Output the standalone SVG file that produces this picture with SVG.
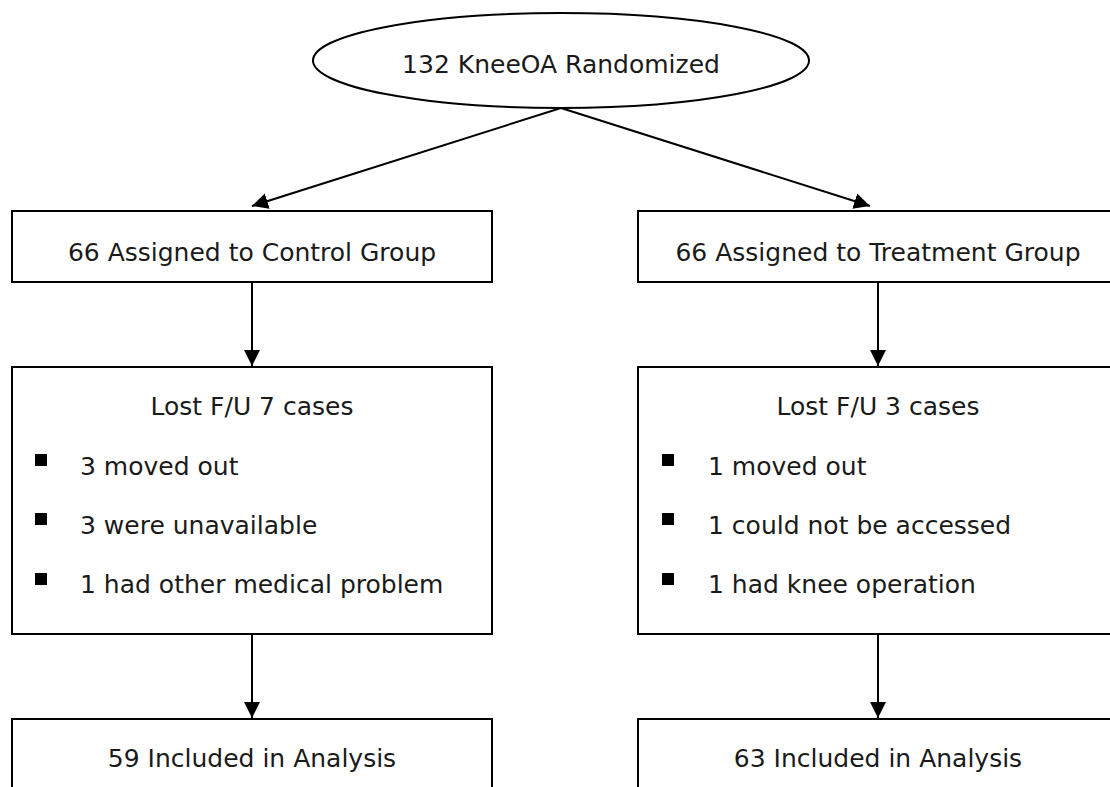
<svg xmlns="http://www.w3.org/2000/svg" width="1110" height="787" viewBox="0 0 1110 787">
  <style>
    .box { fill: #ffffff; stroke: #000000; stroke-width: 2; }
    .t { font-family: "DejaVu Sans", "Liberation Sans", sans-serif; font-size: 25px; fill: #1a1a1a; }
    .c { text-anchor: middle; }
    .edge { stroke: #000000; stroke-width: 2; fill: none; marker-end: url(#arrow); }
    .bullet { fill: #000000; }
  </style>
  <defs>
    <marker id="arrow" markerUnits="userSpaceOnUse" markerWidth="18" markerHeight="18" refX="16" refY="9" orient="auto">
      <path d="M0,1 L16,9 L0,17 z" fill="#000000"/>
    </marker>
  </defs>
  <rect width="1110" height="787" fill="#ffffff"/>

  <g id="connectors">
    <line class="edge" x1="561" y1="108" x2="252" y2="206"/>
    <line class="edge" x1="561" y1="108" x2="870" y2="206"/>
    <line class="edge" x1="252" y1="282" x2="252" y2="366"/>
    <line class="edge" x1="878" y1="282" x2="878" y2="366"/>
    <line class="edge" x1="252" y1="634" x2="252" y2="718"/>
    <line class="edge" x1="878" y1="634" x2="878" y2="718"/>
  </g>

  <g id="randomized">
    <ellipse class="box" cx="561" cy="60.5" rx="248" ry="47.5"/>
    <text class="t c" x="561" y="73">132 KneeOA Randomized</text>
  </g>

  <g id="control">
    <rect class="box" x="12" y="211" width="480" height="71"/>
    <text class="t c" x="252" y="261">66 Assigned to Control Group</text>
  </g>

  <g id="treatment">
    <rect class="box" x="638" y="211" width="480" height="71"/>
    <text class="t c" x="878" y="261">66 Assigned to Treatment Group</text>
  </g>

  <g id="lost-control">
    <rect class="box" x="12" y="367" width="480" height="267"/>
    <text class="t c" x="252" y="415">Lost F/U 7 cases</text>
    <rect class="bullet" x="35" y="454" width="12" height="12"/>
    <text class="t" x="80" y="475">3 moved out</text>
    <rect class="bullet" x="35" y="513" width="12" height="12"/>
    <text class="t" x="80" y="534">3 were unavailable</text>
    <rect class="bullet" x="35" y="573" width="12" height="12"/>
    <text class="t" x="80" y="593">1 had other medical problem</text>
  </g>

  <g id="lost-treatment">
    <rect class="box" x="638" y="367" width="480" height="267"/>
    <text class="t c" x="878" y="415">Lost F/U 3 cases</text>
    <rect class="bullet" x="662" y="454" width="12" height="12"/>
    <text class="t" x="708" y="475">1 moved out</text>
    <rect class="bullet" x="662" y="513" width="12" height="12"/>
    <text class="t" x="708" y="534">1 could not be accessed</text>
    <rect class="bullet" x="662" y="573" width="12" height="12"/>
    <text class="t" x="708" y="593">1 had knee operation</text>
  </g>

  <g id="analysis-control">
    <rect class="box" x="12" y="719" width="480" height="90"/>
    <text class="t c" x="252" y="767">59 Included in Analysis</text>
  </g>

  <g id="analysis-treatment">
    <rect class="box" x="638" y="719" width="480" height="90"/>
    <text class="t c" x="878" y="767">63 Included in Analysis</text>
  </g>
</svg>
